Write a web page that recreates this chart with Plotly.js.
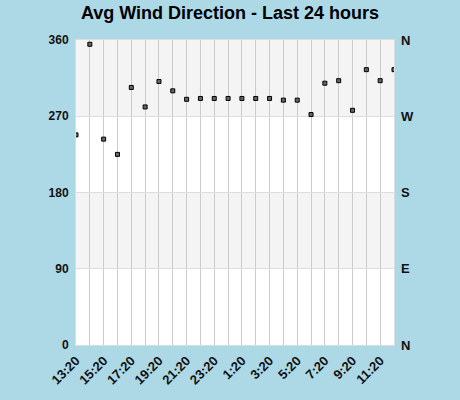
<!DOCTYPE html>
<html>
<head>
<meta charset="utf-8">
<script src="https://cdn.plot.ly/plotly-3.0.1.min.js"></script>
<style>
  html, body { margin: 0; padding: 0; background: #add8e6; }
  #chart { width: 460px; height: 400px; }
</style>
</head>
<body>
<div id="chart"></div>
<script>
// hourly readings, oldest first
const times = ['13:20', '14:20', '15:20', '16:20', '17:20', '18:20', '19:20', '20:20',
               '21:20', '22:20', '23:20', '0:20', '1:20', '2:20', '3:20', '4:20',
               '5:20', '6:20', '7:20', '8:20', '9:20', '10:20', '11:20', '12:20'];
const direction = [248, 355, 243, 225, 304, 281, 311, 300,
                   290, 291, 291, 291, 291, 291, 291, 289,
                   289, 272, 309, 312, 277, 325, 312, 325];
const degTicks = [0, 90, 180, 270, 360];
const compassTicks = ['N', 'E', 'S', 'W', 'N'];

const idx = times.map((_, i) => i);
const labelIdx = idx.filter(i => i % 2 === 0);

const fontFamily = 'Liberation Sans, Arial, sans-serif';
const boldFont = { family: fontFamily, size: 12, color: '#111', weight: 'bold' };

const trace = {
    x: idx,
    y: direction,
    text: times,
    type: 'scatter',
    mode: 'markers',
    marker: { symbol: 'square', size: 4, color: '#666', line: { color: '#000', width: 1 } },
    hovertemplate: '%{text}: %{y}°<extra></extra>'
};

// shaded quadrants 90-180 and 270-360
const bands = [[90, 180], [270, 360]].map(b => ({
    type: 'rect', xref: 'paper', yref: 'y', x0: 0, x1: 1, y0: b[0], y1: b[1],
    fillcolor: '#f4f4f4', line: { width: 0 }, layer: 'below'
}));

// compass labels on the right side
const compass = degTicks.map((d, i) => ({
    xref: 'paper', yref: 'y', x: 1, y: d,
    xanchor: 'left', yanchor: 'middle', xshift: 5,
    text: compassTicks[i], showarrow: false,
    font: { family: fontFamily, size: 13, color: '#111', weight: 'bold' }
}));

const layout = {
    width: 460,
    height: 400,
    margin: { l: 76, r: 66, t: 40, b: 55 },
    paper_bgcolor: '#add8e6',
    plot_bgcolor: '#ffffff',
    showlegend: false,
    title: {
        text: 'Avg Wind Direction - Last 24 hours',
        x: 0.5, xanchor: 'center',
        y: 0.968, yanchor: 'middle',
        font: { family: fontFamily, size: 18, color: '#000', weight: 'bold' }
    },
    xaxis: {
        range: [0, 23],
        tickmode: 'array',
        tickvals: labelIdx,
        ticktext: labelIdx.map(i => times[i]),
        tickangle: -45,
        tickfont: Object.assign({}, boldFont, { size: 13 }),
        ticks: '',
        ticklabelstandoff: 2,
        showgrid: true,
        gridcolor: '#cccccc',
        gridwidth: 1,
        minor: { tickmode: 'linear', dtick: 1, showgrid: true, gridcolor: '#cccccc', gridwidth: 1 },
        showline: true, linecolor: '#dddddd', mirror: true,
        zeroline: false,
        fixedrange: true
    },
    yaxis: {
        range: [0, 360],
        tickmode: 'array',
        tickvals: degTicks,
        tickfont: boldFont,
        ticks: '',
        ticklabelstandoff: 4,
        showgrid: true,
        gridcolor: '#dddddd',
        showline: true, linecolor: '#dddddd', mirror: true,
        zeroline: false,
        fixedrange: true
    },
    shapes: bands,
    annotations: compass
};

Plotly.newPlot('chart', [trace], layout, { displayModeBar: false, staticPlot: true });
</script>
</body>
</html>
